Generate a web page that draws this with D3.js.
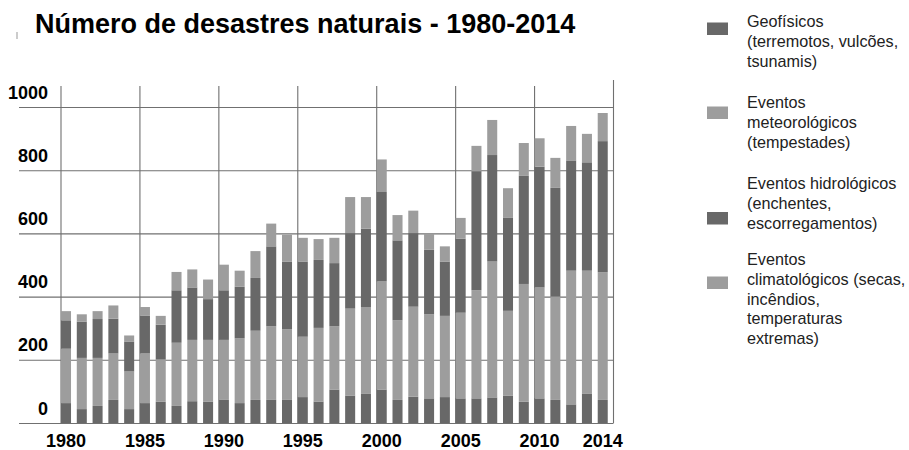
<!DOCTYPE html>
<html lang="pt">
<head>
  <meta charset="UTF-8" />
  <title>Número de desastres naturais - 1980-2014</title>
  <script src="https://d3js.org/d3.v7.min.js"></script>
  <style>
    body {
      margin: 0;
      font-family: "Liberation Sans", Arial, sans-serif;
      background: #fff;
    }
    .grid line, .vgrid {
      stroke: #707070;
      stroke-width: 1.1;
    }
    .tick-label {
      font-size: 18px;
      font-weight: bold;
      fill: #000;
    }
    .legend-text {
      font-size: 16.2px;
      fill: #222;
    }
  </style>
</head>
<body>
<svg width="909" height="450"></svg>

<script>
  const years = d3.range(1980, 2015);

  const geofisicos = [63, 44, 54, 73, 44, 63, 67, 54, 69, 68, 73, 63, 73, 73, 73, 82, 68, 106, 87, 92,
                      106, 73, 83, 78, 82, 78, 78, 81, 87, 67, 78, 73, 59, 92, 73];
  const meteorologicos = [172, 162, 152, 147, 119, 157, 134, 200, 194, 195, 190, 205, 219, 233, 224, 191, 233, 200, 275, 275,
                          342, 252, 285, 266, 257, 271, 342, 430, 268, 373, 351, 327, 423, 390, 404];
  const hidrologicos = [90, 115, 123, 110, 95, 119, 110, 166, 166, 129, 157, 163, 167, 253, 214, 238, 215, 200, 239, 248,
                        283, 253, 233, 204, 172, 234, 377, 337, 294, 342, 382, 344, 349, 343, 415];
  const climatologicos = [29, 23, 25, 42, 19, 28, 28, 58, 57, 62, 81, 51, 85, 72, 85, 75, 66, 80, 114, 100,
                          103, 80, 71, 51, 48, 66, 80, 111, 94, 104, 90, 95, 109, 90, 89];

  const yTicks = [0, 200, 400, 600, 800, 1000];
  const xTickYears = [1980, 1985, 1990, 1995, 2000, 2005, 2010, 2014];
  const gridYears = [1980, 1985, 1990, 1995, 2000, 2005, 2010];

  const keys = ["geo", "meteo", "hidro", "clima"];
  const colors = {geo: "#686868", meteo: "#9d9d9d", hidro: "#686868", clima: "#9d9d9d"};
  const legendColors = ["#686868", "#9d9d9d", "#686868", "#9d9d9d"];

  const legendLabels = [
    ["Geofísicos", "(terremotos, vulcões,", "tsunamis)"],
    ["Eventos", "meteorológicos", "(tempestades)"],
    ["Eventos hidrológicos", "(enchentes,", "escorregamentos)"],
    ["Eventos", "climatológicos (secas,", "incêndios,", "temperaturas", "extremas)"]
  ];

  const table = years.map((yr, i) => ({
    year: yr,
    geo: geofisicos[i],
    meteo: meteorologicos[i],
    hidro: hidrologicos[i],
    clima: climatologicos[i]
  }));

  const svg = d3.select("svg");

  const plotLeft = 61, plotRight = 613.5, gridLeft = 19, plotTop = 86;

  const x = d3.scaleBand()
    .domain(years)
    .range([plotLeft, plotRight])
    .padding(0);
  const barW = x.bandwidth() * 0.635;

  const y = d3.scaleLinear()
    .domain([0, 1000])
    .range([423, 107]);

  // title
  svg.append("line")
    .attr("x1", 17).attr("x2", 17).attr("y1", 32).attr("y2", 39)
    .attr("stroke", "#999").attr("stroke-width", 1);
  svg.append("text")
    .attr("x", 35).attr("y", 33)
    .style("font-size", "27px").style("font-weight", "bold")
    .text("Número de desastres naturais - 1980-2014");

  // horizontal grid + y labels
  const yAxis = svg.append("g")
    .attr("class", "grid")
    .attr("transform", `translate(${gridLeft},0)`)
    .call(d3.axisRight(y).tickValues(yTicks).tickSize(plotRight - gridLeft).tickFormat(d3.format("d")));
  yAxis.select(".domain").remove();
  yAxis.selectAll("text")
    .attr("class", "tick-label")
    .attr("x", 48 - gridLeft)
    .attr("dy", -9)
    .attr("text-anchor", "end")
    .style("font-family", "inherit");

  // vertical grid
  svg.append("g").selectAll("line")
    .data(gridYears)
    .join("line")
    .attr("class", "vgrid")
    .attr("x1", d => x(d)).attr("x2", d => x(d))
    .attr("y1", plotTop).attr("y2", y(0));
  svg.append("line")
    .attr("class", "vgrid")
    .attr("x1", plotRight).attr("x2", plotRight)
    .attr("y1", plotTop - 6).attr("y2", y(0));

  // stacked bars
  const series = d3.stack().keys(keys)(table);
  svg.append("g").selectAll("g")
    .data(series)
    .join("g")
    .attr("fill", d => colors[d.key])
    .selectAll("rect")
    .data(d => d)
    .join("rect")
    .attr("x", d => x(d.data.year))
    .attr("width", barW)
    .attr("y", d => y(d[1]))
    .attr("height", d => y(d[0]) - y(d[1]));

  // x labels
  const xAxis = svg.append("g")
    .attr("transform", `translate(0,${y(0)})`)
    .call(d3.axisBottom(x).tickValues(xTickYears).tickSize(0).tickPadding(0));
  xAxis.select(".domain").remove();
  xAxis.selectAll("text")
    .attr("class", "tick-label")
    .attr("y", 24)
    .attr("dy", 0)
    .attr("dx", barW / 2 - x.bandwidth() / 2)
    .style("font-family", "inherit");

  // legend
  const swatchY = [22.5, 106.5, 212, 276.5];
  const textTop = [27, 108, 189, 265];
  const lineH = 19.8;
  const legend = svg.append("g");
  legendLabels.forEach((lines, i) => {
    legend.append("rect")
      .attr("x", 707).attr("y", swatchY[i])
      .attr("width", 21).attr("height", 12.5)
      .attr("fill", legendColors[i]);
    const t = legend.append("text")
      .attr("class", "legend-text")
      .attr("x", 747).attr("y", textTop[i]);
    lines.forEach((ln, j) => {
      t.append("tspan")
        .attr("x", 747)
        .attr("y", textTop[i] + j * lineH)
        .text(ln);
    });
  });
</script>
</body>
</html>
